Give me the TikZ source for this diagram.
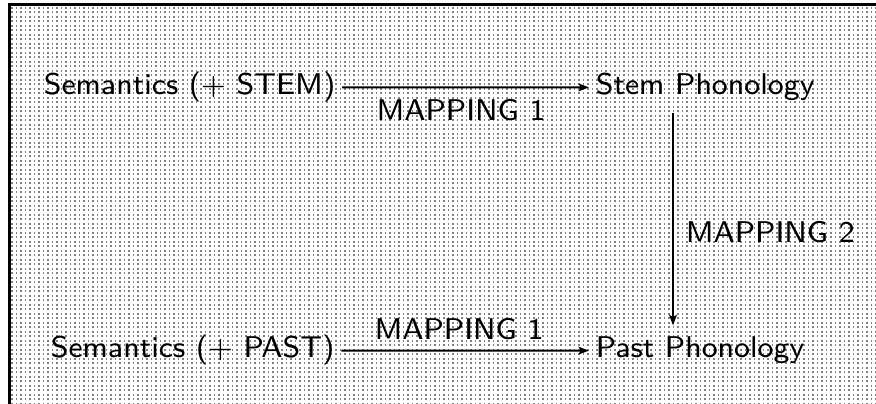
\documentclass[tikz,border=0pt]{standalone}
\usetikzlibrary{arrows.meta}
\begin{document}
\begin{tikzpicture}[x=0.25pt,y=-0.25pt,
  lbl/.style={font=\sffamily\fontsize{7.5}{9}\selectfont, inner xsep=1.5pt, inner ysep=0pt, anchor=base west},
  tag/.style={font=\sffamily\fontsize{7.5}{9}\selectfont, inner sep=0pt, anchor=base},
  arr/.style={line width=0.5pt, -{Stealth[length=2.6pt,width=1.9pt,inset=0.5pt]}},
  border/.style={line width=0.75pt, line join=miter},
  griddot/.style={line width=0.3pt, draw=black!50, dash pattern=on 0.45pt off 0.675pt}
]
\useasboundingbox (0,0) rectangle (876,404);
\foreach \i in {0,...,192} { \draw[griddot] (12+4.5*\i, 7) -- (12+4.5*\i, 404); }
\draw[border] (9,404) -- (9,4.5) -- (876,4.5);
\node[lbl] (sem1) at (37,95) {Semantics (+ STEM)};
\node[lbl] (sp) at (589,95) {Stem Phonology};
\node[lbl] (sem2) at (44,358) {Semantics (+ PAST)};
\node[lbl] (pp) at (589,358) {Past Phonology};
\coordinate (vx) at (673,0);
\draw[arr] (sem1) -- (sp);
\draw[arr] (sem2) -- (pp);
\draw[arr, shorten <=2.75pt, shorten >=2.75pt] (sp.south -| vx) -- (pp.north -| vx);
\node[tag] (m1a) at (461,121) {MAPPING 1};
\node[tag] (m1b) at (459,340) {MAPPING 1};
\node[tag, anchor=base west] (m2) at (685,243) {MAPPING 2};
\end{tikzpicture}
\end{document}
